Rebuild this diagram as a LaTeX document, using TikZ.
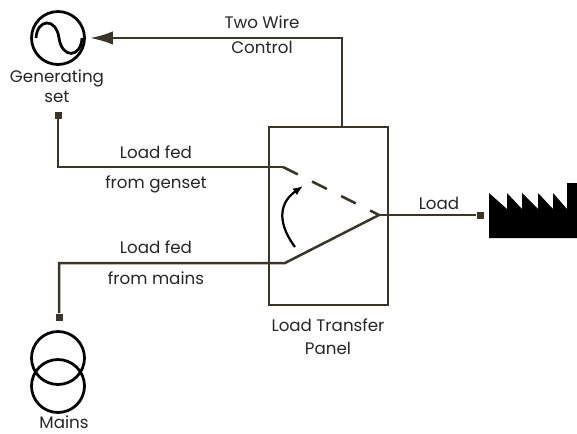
\documentclass[tikz,border=0pt]{standalone}
\usepackage{fontspec}
\setmainfont{Poppins}
\usetikzlibrary{arrows.meta}
\definecolor{wirecolor}{HTML}{3A3528}
\tikzset{
    wire/.style={draw=wirecolor, line width=0.05cm, line join=miter},
    label/.style={font=\fontsize{9.5}{9.5}\selectfont, text=black!85, inner sep=0pt},
    terminal/.style={fill=wirecolor, minimum size=0.14cm, inner sep=0pt},
    symbol/.style={draw=black, line width=0.055cm, circle, minimum size=1.06cm, inner sep=0pt}
}
\begin{document}
\begin{tikzpicture}[x=0.02cm, y=-0.02cm]
    \useasboundingbox (0,0) rectangle (577,433);

    % generating set
    \node[symbol] (gen) at (58,38) {};
    \draw[black, line width=0.055cm] (36,38) .. controls (37,19) and (56,17) .. (59,38)
        .. controls (62,59) and (81,58) .. (82,38);
    \draw (57,78) node[label] (genname) {Generating};
    \draw (57,97) node[label] (genname2) {set};
    \node[terminal] (genend) at (58,115) {};

    % panel
    \node[wire, minimum width=2.38cm, minimum height=3.56cm, inner sep=0pt] (panel) at (328.5,216) {};
    \draw (328,325) node[label] (panelname) {Load Transfer};
    \draw (328,348) node[label] (panelname2) {Panel};

    % switch points
    \coordinate (upper) at (283,167);
    \coordinate (lower) at (285,263);
    \coordinate (common) at (379,215);
    \coordinate (corner1) at (58,167);
    \coordinate (corner2) at (59,263);
    \coordinate (corner3) at (342,38);
    \coordinate (paneltop) at (342,127);
    \coordinate (arrowtip) at (90,38);
    \coordinate (swingfrom) at (295,247);
    \coordinate (swingto) at (303,186);

    \draw[wire] (genend) -- (corner1) -- (upper);
    \draw[wire, dash pattern=on 0.33cm off 0.32cm] (upper) -- (common);

    % mains
    \node[terminal] (mainsend) at (59,317) {};
    \node[symbol] (mains1) at (58,358) {};
    \node[symbol] (mains2) at (58,386) {};
    \draw (64,422) node[label] (mainsname) {Mains};
    \draw[wire] (mainsend) -- (corner2) -- (lower) -- (common);

    % load
    \node[terminal] (loadend) at (480,215) {};
    \draw[wire] (common) -- (loadend);
    \fill[black] (489,193) -- (507,209) -- (507,193) -- (522,209) -- (522,193) -- (538,209)
        -- (538,193) -- (553,209) -- (553,193) -- (567,209) -- (567,183) -- (577,183)
        -- (577,238) -- (489,238) -- cycle;
    \draw (439,203) node[label] (loadname) {Load};

    % control
    \draw[wire, -{Latex[length=0.46cm, width=0.27cm]}] (paneltop) -- (corner3) -- (arrowtip);
    \draw (262,22) node[label] (controlname) {Two Wire};
    \draw (262,47) node[label] (controlname2) {Control};

    % wire labels
    \draw (156,152) node[label] (gentext) {Load fed};
    \draw (156,184) node[label] (gentext2) {from genset};
    \draw (156,247) node[label] (mainstext) {Load fed};
    \draw (156,278) node[label] (mainstext2) {from mains};

    \draw[black, line width=0.045cm, -{Latex[length=0.2cm, width=0.16cm]}] (swingfrom)
        .. controls (280,227) and (276,205) .. (swingto);
\end{tikzpicture}
\end{document}
